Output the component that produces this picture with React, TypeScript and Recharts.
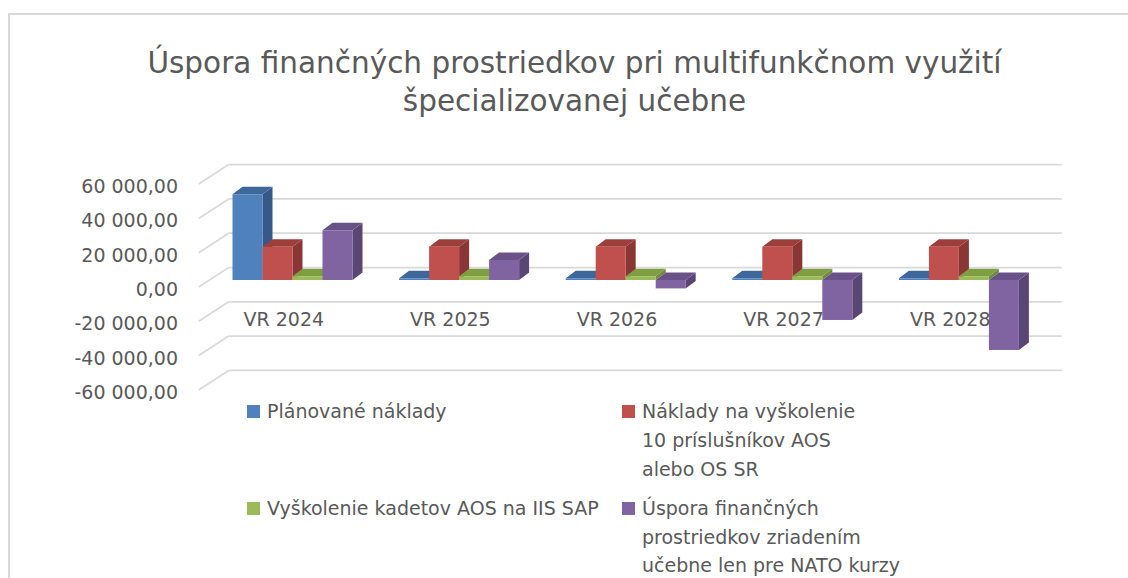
import React from 'react';
import { BarChart, Bar, XAxis, YAxis, CartesianGrid, Legend } from 'recharts';

const categories = ['VR 2024', 'VR 2025', 'VR 2026', 'VR 2027', 'VR 2028'];
const plannedCosts = [50000, 1000, 1000, 1000, 1000];
const trainingCosts = [19400, 19400, 19400, 19400, 19400];
const cadetTraining = [2200, 2200, 2200, 2200, 2200];
const savings = [29000, 11700, -4900, -23300, -40800];

const seriesNames = [
  'Plánované náklady',
  'Náklady na vyškolenie\n10 príslušníkov AOS\nalebo OS SR',
  'Vyškolenie kadetov AOS na IIS SAP',
  'Úspora finančných\nprostriedkov zriadením\nučebne len pre NATO kurzy',
];
const seriesKeys = ['planned', 'training', 'cadets', 'savings'];
const yTicks = [60000, 40000, 20000, 0, -20000, -40000, -60000];

const titleLines = ['Úspora finančných prostriedkov pri multifunkčnom využití', 'špecializovanej učebne'];

// front / top / side colours of each series
const palette = [
  { front: '#4F81BD', top: '#3E679B', side: '#37598A' },
  { front: '#C0504D', top: '#9E3E3B', side: '#8A3634' },
  { front: '#9BBB59', top: '#7F9E43', side: '#6F8B3B' },
  { front: '#8064A2', top: '#6A5289', side: '#5A4675' },
];

const data = categories.map((category, i) => ({
  category,
  planned: plannedCosts[i],
  training: trainingCosts[i],
  cadets: cadetTraining[i],
  savings: savings[i],
}));

const FONT = '"DejaVu Sans", sans-serif';
const TEXT = '#595959';
const GRID = '#d9d9d9';

// depth of a bar, and where the bar plane sits between front and back wall
const BAR_DX = 10;
const BAR_DY = 7.5;
const BACK_DX = 19.2;
const BACK_DY = 12.5;
const FRONT_DX = 10.8;
const FRONT_DY = 7;

const fmt = (v: number) => {
  const s = Math.abs(v).toString().replace(/\B(?=(\d{3})+(?!\d))/g, ' ');
  return (v < 0 ? '-' : '') + s + ',00';
};

const make3D = (c: { front: string; top: string; side: string }) => (props: any) => {
  const { x, y, width, height } = props;
  if (x == null || y == null) return <g />;
  const top = Math.min(y, y + height);
  const bottom = Math.max(y, y + height);
  const r = x + width;
  return (
    <g>
      <polygon
        points={`${r},${top} ${r + BAR_DX},${top - BAR_DY} ${r + BAR_DX},${bottom - BAR_DY} ${r},${bottom}`}
        fill={c.side}
      />
      <polygon
        points={`${x},${top} ${x + BAR_DX},${top - BAR_DY} ${r + BAR_DX},${top - BAR_DY} ${r},${top}`}
        fill={c.top}
      />
      <rect x={x} y={top} width={width} height={bottom - top} fill={c.front} />
    </g>
  );
};

const gridLine = (p: any) => {
  const { x1, x2, y1 } = p;
  return (
    <g key={p.key}>
      <line x1={x1 - FRONT_DX} y1={y1 + FRONT_DY} x2={x1 + BACK_DX} y2={y1 - BACK_DY} stroke={GRID} strokeWidth={1.75} />
      <line x1={x1 + BACK_DX} y1={y1 - BACK_DY} x2={x2 + BACK_DX} y2={y1 - BACK_DY} stroke={GRID} strokeWidth={1.75} />
    </g>
  );
};

const YTick = (props: any) => {
  const { x, y, payload } = props;
  return (
    <text x={x} y={y + 16} textAnchor="end" fill={TEXT} fontSize={19} fontFamily={FONT}>
      {fmt(payload.value)}
    </text>
  );
};

const XTick = (props: any) => {
  const { x, y, payload } = props;
  return (
    <text x={x - 9} y={y - 57} textAnchor="middle" fill={TEXT} fontSize={19} fontFamily={FONT}>
      {payload.value}
    </text>
  );
};

const legendCols = [247, 622];
const legendRows = [397.4, 494];

const LegendContent = (props: any) => {
  const payload = [...(props.payload || [])].sort(
    (a: any, b: any) => seriesNames.indexOf(a.value) - seriesNames.indexOf(b.value)
  );
  return (
    <div style={{ position: 'relative', width: 1128, height: 578 }}>
      {payload.map((item: any, i: number) => (
        <div
          key={item.value}
          style={{
            position: 'absolute',
            left: legendCols[i % 2],
            top: legendRows[Math.floor(i / 2)],
            display: 'flex',
            alignItems: 'flex-start',
          }}
        >
          <span
            style={{ width: 13, height: 13, background: item.color, marginTop: 7.5, marginRight: 7, flex: 'none' }}
          />
          <span
            style={{
              whiteSpace: 'pre-line',
              fontFamily: FONT,
              fontSize: 19,
              lineHeight: '28.7px',
              color: TEXT,
            }}
          >
            {item.value}
          </span>
        </div>
      ))}
    </div>
  );
};

export default function App() {
  return (
    <div style={{ position: 'absolute', left: 0, top: 0, width: 1128, height: 578, background: '#fff', overflow: 'hidden' }}>
      <div
        style={{
          position: 'absolute',
          left: 8,
          top: 12.5,
          width: 1200,
          height: 700,
          borderTop: `2px solid ${GRID}`,
          borderLeft: `2px solid ${GRID}`,
        }}
      />
      <div
        style={{
          position: 'absolute',
          left: 21,
          top: 44.9,
          width: 1107,
          textAlign: 'center',
          fontFamily: FONT,
          fontSize: 29.5,
          lineHeight: '37.7px',
          color: TEXT,
        }}
      >
        {titleLines.map((l) => (
          <div key={l}>{l}</div>
        ))}
      </div>
      <div style={{ position: 'absolute', left: 0, top: 0 }}>
        <BarChart
          width={1128}
          height={578}
          data={data}
          barSize={30}
          barGap={0}
          margin={{ top: 177.1, right: 85.5, bottom: 175.1, left: 29.5 }}
        >
          <CartesianGrid vertical={false} horizontal={gridLine} />
          <XAxis
            dataKey="category"
            height={20}
            axisLine={false}
            tickLine={false}
            tickSize={0}
            tickMargin={0}
            interval={0}
            tick={<XTick />}
          />
          <YAxis
            width={180}
            domain={[-60000, 60000]}
            ticks={yTicks}
            axisLine={false}
            tickLine={false}
            tickSize={0}
            tickMargin={31.5}
            interval={0}
            tick={<YTick />}
          />
          <Legend
            layout="horizontal"
            verticalAlign="middle"
            align="center"
            wrapperStyle={{ left: 0, top: 0, width: 1128, height: 578 }}
            content={<LegendContent />}
          />
          {seriesKeys.map((k, i) => (
            <Bar
              key={k}
              dataKey={k}
              name={seriesNames[i]}
              fill={palette[i].front}
              shape={make3D(palette[i])}
              isAnimationActive={false}
            />
          ))}
        </BarChart>
      </div>
    </div>
  );
}
